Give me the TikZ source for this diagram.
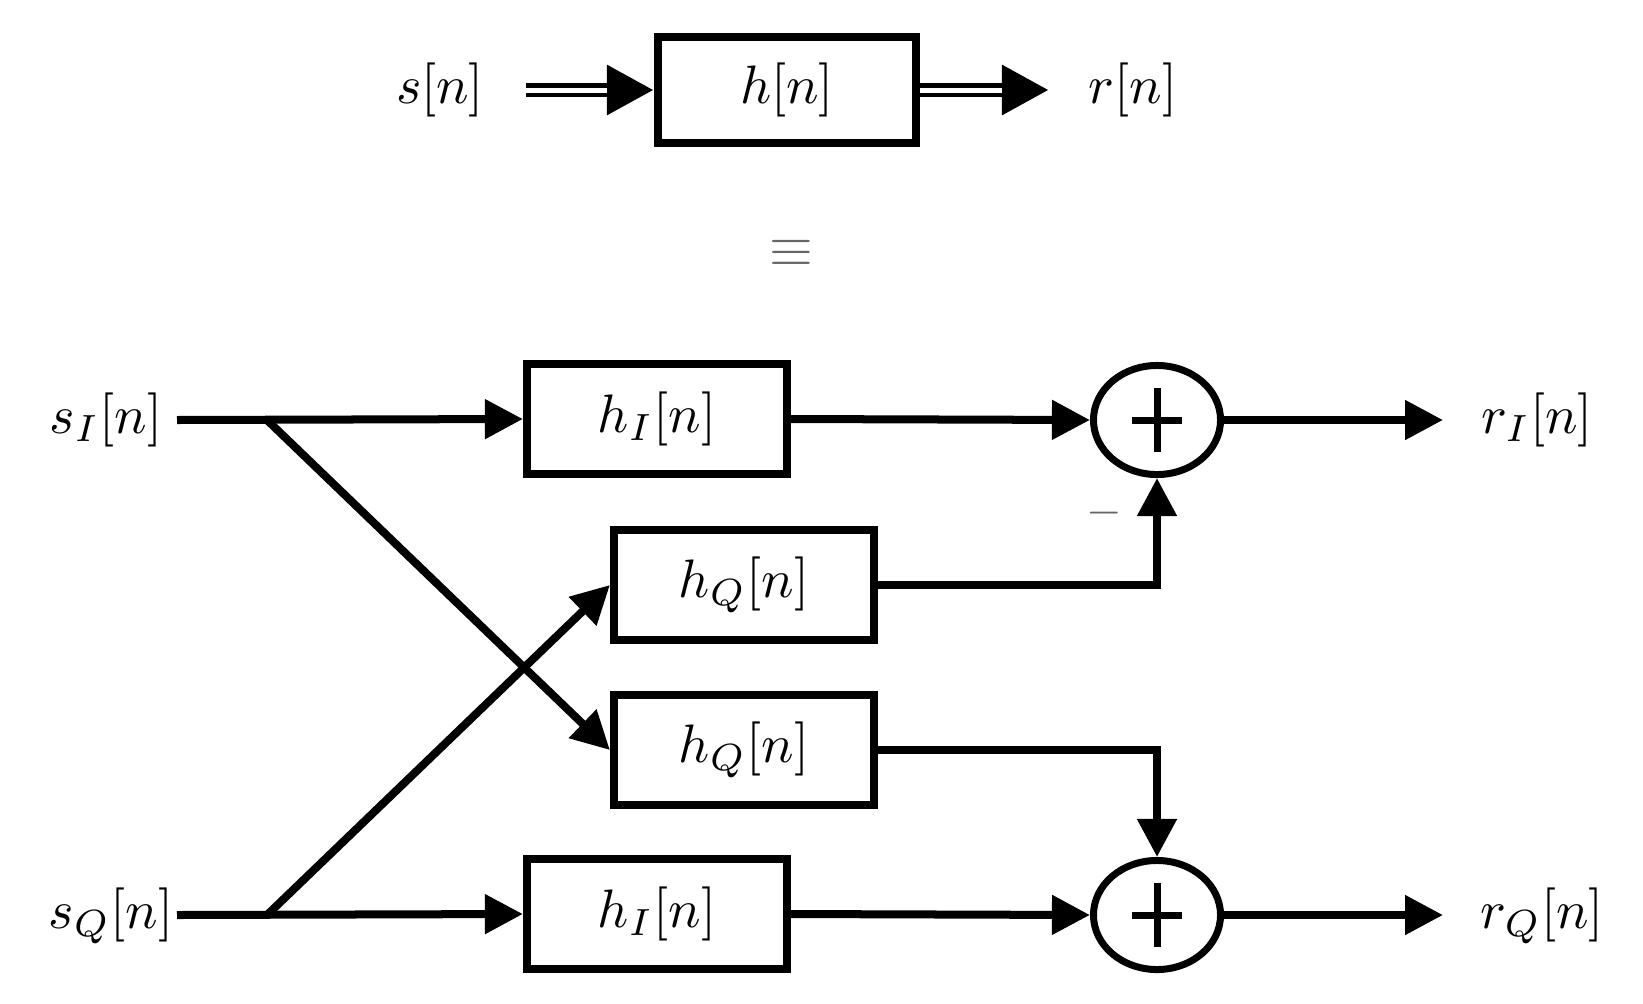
\documentclass[tikz,border=0pt]{standalone}
\usetikzlibrary{arrows.meta,shapes.geometric}
\newcommand{\mylbl}[1]{\scalebox{1.54}{$#1$}}
\begin{document}
\begin{tikzpicture}[x=0.01cm,y=-0.01cm,
  lbl/.style={inner sep=0pt, anchor=base},
  blk/.style={draw, line width=0.08cm, minimum width=2.6cm, minimum height=1.09cm, inner sep=0pt},
  sumnode/.style={draw, ellipse, line width=0.07cm, minimum width=1.27cm, minimum height=1.09cm, inner sep=0pt},
  plusline/.style={line width=0.07cm},
  sig/.style={line width=0.08cm, -{Triangle[length=0.38cm,width=0.38cm]}},
  dblhead/.style={line width=0.14cm, -{Triangle[length=0.47cm,width=0.47cm]}},
  dblgap/.style={draw=white, line width=0.05cm, shorten >=0.47cm},
  greytext/.style={text=black!60, inner sep=0pt}
]
\useasboundingbox (0,0) rectangle (1643,1003);

% ---------- top: equivalent complex system ----------
\node[lbl] (sN) at (440,103) {\mylbl{s[n]}};
\coordinate (sNout) at (526,90);
\node[blk, minimum width=2.58cm, minimum height=1.06cm] (h) at (787,90) {\mylbl{h[n]}};
\coordinate (rNin) at (1049,90);
\node[lbl] (rN) at (1133,103) {\mylbl{r[n]}};

\draw[dblhead] (sNout) -- (h.west);
\draw[dblgap] (sNout) -- (h.west);
\draw[dblhead] (h.east) -- (rNin);
\draw[dblgap] (h.east) -- (rNin);

\node[greytext] (eq) at (791,253) {\scalebox{1.6}{$\equiv$}};

% ---------- bottom: real implementation ----------
\node[lbl] (sI) at (106,433.5) {\mylbl{s_I[n]}};
\node[lbl] (sQ) at (111,928.5) {\mylbl{s_Q[n]}};
\coordinate (iS) at (177,420);
\coordinate (qS) at (177,915);
\coordinate (bI) at (267,420);
\coordinate (bQ) at (267,915);

\node[blk] (hI1) at (657,419) {\mylbl{h_I[n]}};
\node[blk] (hQ1) at (744,585) {\mylbl{h_Q[n]}};
\node[blk] (hQ2) at (744,750) {\mylbl{h_Q[n]}};
\node[blk] (hI2) at (657,914) {\mylbl{h_I[n]}};

\node[sumnode] (sum1) at (1157,420) {};
\node[sumnode] (sum2) at (1157,915) {};
\draw[plusline] ([xshift=-0.25cm]sum1.center) -- ([xshift=0.25cm]sum1.center)
                ([yshift=-0.32cm]sum1.center) -- ([yshift=0.32cm]sum1.center);
\draw[plusline] ([xshift=-0.25cm]sum2.center) -- ([xshift=0.25cm]sum2.center)
                ([yshift=-0.32cm]sum2.center) -- ([yshift=0.32cm]sum2.center);

\node[greytext] (minus) at (1104,513) {\scalebox{1.3}{$-$}};

\coordinate (oI) at (1443,420);
\coordinate (oQ) at (1443,915);
\node[lbl] (rI) at (1537,433.5) {\mylbl{r_I[n]}};
\node[lbl] (rQ) at (1542,928.5) {\mylbl{r_Q[n]}};

% connectors
\draw[sig] (iS) -- (hI1.west);
\draw[sig] (bI) -- (hQ2.west);
\draw[sig] (qS) -- (hI2.west);
\draw[sig] (bQ) -- (hQ1.west);

\draw[sig] (hI1.east) -- (sum1.west);
\draw[sig] (hQ1.east) -| (sum1.south);
\draw[sig] (hQ2.east) -| (sum2.north);
\draw[sig] (hI2.east) -- (sum2.west);

\draw[sig] (sum1.east) -- (oI);
\draw[sig] (sum2.east) -- (oQ);
\end{tikzpicture}
\end{document}
